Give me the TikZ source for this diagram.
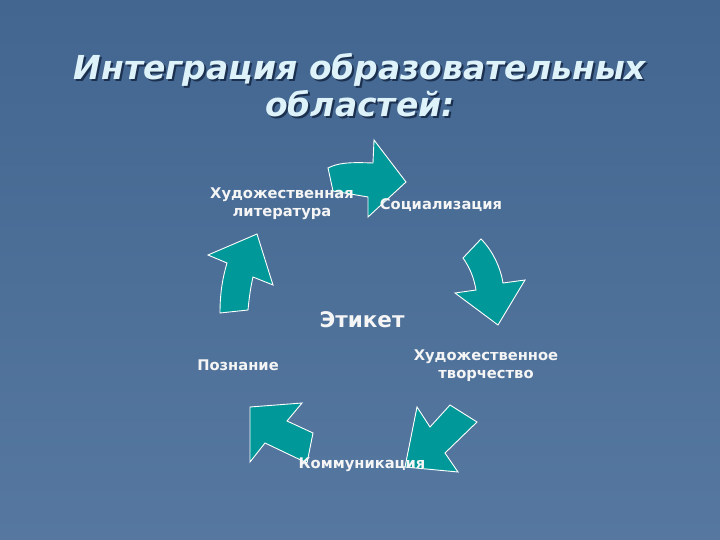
\documentclass[tikz,border=0pt]{standalone}
\usepackage{fontspec}
\setmainfont{DejaVu Sans}
\usetikzlibrary{shadings}
\definecolor{bgtop}{RGB}{66,102,144}
\definecolor{bgbot}{RGB}{86,120,160}
\definecolor{teal1}{RGB}{0,152,152}
\definecolor{titlecol}{RGB}{222,242,250}
\definecolor{shadowcol}{RGB}{28,48,80}
\definecolor{labcol}{RGB}{245,245,245}
\newcommand\shtxt[1]{\rlap{\kern2pt\raisebox{-2pt}{\color{shadowcol}#1}}#1}
\tikzset{
  arrowshape/.style={fill=teal1, draw=white, line width=0.9pt, line join=miter},
  lab/.style={text=labcol, font=\bfseries\fontsize{14.7}{18}\selectfont, align=center, inner sep=0pt},
  titletext/.style={font=\bfseries\itshape\fontsize{33}{37.5}\selectfont, align=center, inner sep=0pt}
}
\begin{document}
\begin{tikzpicture}[x=1pt,y=-1pt]
\useasboundingbox (0,0) rectangle (720,540);
\shade[top color=bgtop, bottom color=bgbot] (0,0) rectangle (720,540);
% title
\node[titletext, text=titlecol] (title) at (360,86) {\shtxt{Интеграция образовательных}\\\shtxt{областей:}};
% arrow 1 (right)
\draw[arrowshape] (328,168) .. controls (338,163) and (348,162) .. (373,163) -- (374,140) -- (406,182) -- (368,217) -- (368,197) -- (333,191) -- cycle;
% arrow 2 (down-right)
\draw[arrowshape] (481,239) -- (463,258) .. controls (470,268) and (474,278) .. (476,290) -- (455,293) -- (498,325) -- (525,280) -- (503,283) .. controls (501,270) and (494,252) .. cycle;
% arrow 3 (down-left)
\draw[arrowshape] (405,467) -- (417,407) -- (430,427) -- (450,405) -- (477,422) -- (445,453) -- (458,472) -- cycle;
% arrow 4 (up-left)
\draw[arrowshape] (250,407) -- (302,403) -- (287,421) -- (313,433) -- (307,463) -- (265,443) -- (250,462) -- cycle;
% arrow 5 (up)
\draw[arrowshape] (257,234) -- (273,285) -- (253,277) .. controls (250,290) and (249,300) .. (248,310) -- (220,313) .. controls (220,295) and (222,280) .. (227,263) -- (208,255) -- cycle;
% labels
\node[lab] (lit) at (282,204) {Художественная\\литература};
\node[lab] (soc) at (441,205) {Социализация};
\node[lab, font=\bfseries\fontsize{21.5}{25}\selectfont] (etik) at (362,320) {Этикет};
\node[lab] (pozn) at (238,365) {Познание};
\node[lab] (tvor) at (486,366) {Художественное\\творчество};
\node[lab] (komm) at (362,465) {Коммуникация};
\end{tikzpicture}
\end{document}
